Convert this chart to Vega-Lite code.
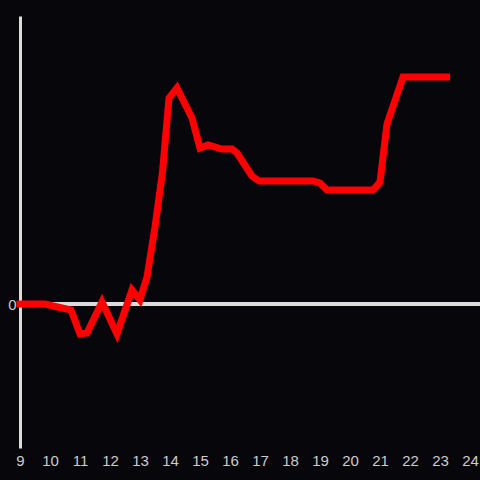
{
  "$schema": "https://vega.github.io/schema/vega-lite/v6.json",
  "width": 460,
  "height": 432,
  "autosize": {"type": "none"},
  "padding": {"left": 20, "top": 16, "right": 0, "bottom": 32},
  "background": "#07060a",
  "config": {"view": {"stroke": null}},
  "data": {"values": [
    {"t": 9, "v": 0},
    {"t": 9.833, "v": 0},
    {"t": 10.7, "v": -6},
    {"t": 11, "v": -30},
    {"t": 11.233, "v": -29},
    {"t": 11.733, "v": 2},
    {"t": 12.233, "v": -30},
    {"t": 12.733, "v": 14},
    {"t": 13, "v": 4},
    {"t": 13.233, "v": 27},
    {"t": 13.5, "v": 77},
    {"t": 13.75, "v": 132},
    {"t": 13.967, "v": 206},
    {"t": 14.233, "v": 216},
    {"t": 14.733, "v": 186},
    {"t": 15, "v": 156},
    {"t": 15.267, "v": 159},
    {"t": 15.733, "v": 155},
    {"t": 16.067, "v": 155},
    {"t": 16.233, "v": 151},
    {"t": 16.733, "v": 128},
    {"t": 16.967, "v": 123},
    {"t": 18.767, "v": 123},
    {"t": 19, "v": 121},
    {"t": 19.233, "v": 114},
    {"t": 20.767, "v": 114},
    {"t": 21, "v": 122},
    {"t": 21.233, "v": 180},
    {"t": 21.767, "v": 227},
    {"t": 23.22, "v": 227}
  ]},
  "layer": [
    {
      "mark": {"type": "rule", "color": "#dcdcdc", "strokeWidth": 3},
      "encoding": {"y": {"datum": 0, "type": "quantitative", "scale": {"domain": [-144, 288], "nice": false, "zero": false}}}
    },
    {
      "mark": {"type": "line", "color": "#ff0000", "strokeWidth": 7, "strokeCap": "square"},
      "encoding": {
        "x": {"field": "t", "type": "quantitative", "title": null,
          "scale": {"domain": [9, 24.333], "nice": false, "zero": false},
          "axis": {"values": [9,10,11,12,13,14,15,16,17,18,19,20,21,22,23,24], "domain": false, "ticks": false, "grid": false,
            "labelColor": "#cccccc", "labelFont": "Liberation Sans", "labelFontSize": 15, "labelPadding": 5, "labelFlush": false, "labelOverlap": false}},
        "y": {"field": "v", "type": "quantitative", "title": null,
          "scale": {"domain": [-144, 288], "nice": false, "zero": false},
          "axis": {"values": [0], "domain": true, "domainColor": "#dcdcdc", "domainWidth": 3, "ticks": false, "grid": false,
            "labelColor": "#cccccc", "labelFont": "Liberation Sans", "labelFontSize": 15, "labelPadding": 4}}
      }
    }
  ]
}
